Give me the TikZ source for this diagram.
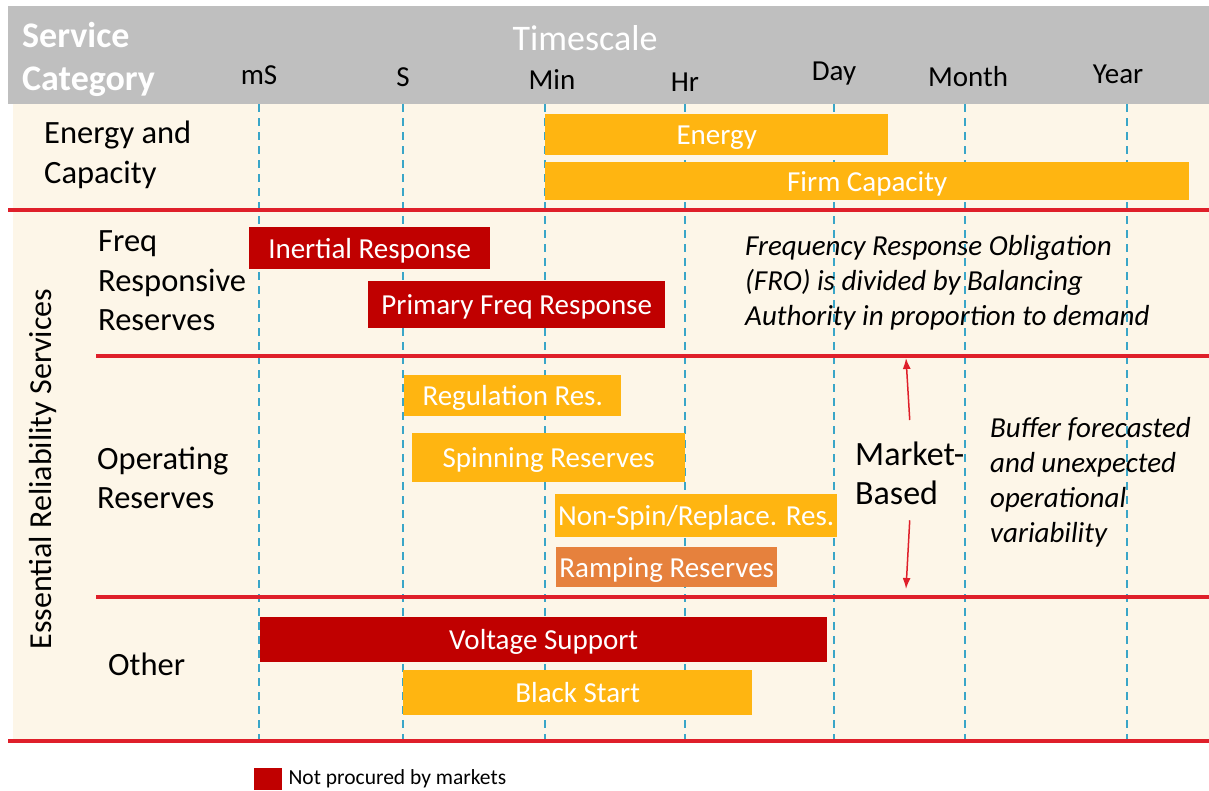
\documentclass[tikz,border=0pt]{standalone}
\usepackage{fontspec}
\setmainfont{Carlito}
\usetikzlibrary{arrows.meta,positioning}

\definecolor{amber}{HTML}{FFB511}
\definecolor{darkred}{HTML}{C00000}
\definecolor{ramp}{HTML}{E6813D}
\definecolor{cream}{HTML}{FDF6E8}
\definecolor{hdrgray}{HTML}{BFBFBF}
\definecolor{rule}{HTML}{DF1F2A}
\definecolor{grid}{HTML}{3AA6C8}

\newcommand{\fs}[2]{\fontsize{#1}{#2}\selectfont}

\begin{document}
\begin{tikzpicture}[x=1pt,y=-1pt,
    bar/.style={rectangle,inner sep=0pt,anchor=north west,text=white,text depth=0pt,font=\fs{29}{32}},
    amberbar/.style={bar,fill=amber},
    redbar/.style={bar,fill=darkred},
    catlabel/.style={anchor=west,align=left,inner sep=0pt,font=\fs{32.5}{39.5}},
    tick/.style={font=\fs{29}{32}},
    note/.style={anchor=west,align=left,inner sep=0pt,font=\fs{29}{35}\itshape},
    redline/.style={rule,line width=4pt},
    gridline/.style={grid,line width=2pt,dash pattern=on 8pt off 6pt},
    arr/.style={rule,line width=1.5pt,-{Latex[length=11pt,width=8pt]}}]
    \useasboundingbox (0,0) rectangle (1209,790);
    % background and header
    \fill [cream] (13,104) rectangle (1209,741);
    \fill [hdrgray] (8,6) rectangle (1209,104);
    \node [anchor=west,align=left,inner sep=0pt,text=white,font=\fs{36}{43}\bfseries] (svc) at (22,59) {Service\\Category};
    \node [text=white,font=\fs{36}{40}] (tscale) at (585,38) {Timescale};
    % timescale ticks and grid
    \foreach \lx/\ly/\gx/\t/\n in {259/75/259/mS/ms, 403/77/403/S/s, 552/80/545/Min/min, 685/82/685/Hr/hr,
        834/74/834/Day/day, 968/77/965/Month/month, 1118/74/1127/Year/year} {
        \node [tick] (t\n) at (\lx,\ly) {\t};
        \draw [gridline] (\gx,104) -- (\gx,741);
    }
    % row separators
    \draw [redline] (8,210) -- (1209,210);
    \draw [redline] (96,356) -- (1209,356);
    \draw [redline] (96,597) -- (1209,597);
    \draw [redline] (8,741) -- (1209,741);
    % categories
    \node [catlabel] (enc) at (44,155) {Energy and\\Capacity};
    \node [catlabel] (frr) at (98,281) {Freq\\Responsive\\Reserves};
    \node [catlabel] (opr) at (97,478) {Operating\\Reserves};
    \node [catlabel] (oth) at (108,664) {Other};
    \node [rotate=90,inner sep=0pt,font=\fs{32}{36}] (ers) at (43,469) {Essential Reliability Services};
    % service bars
    \node [amberbar,minimum width=343pt,minimum height=41pt] (energy) at (545,114) {Energy};
    \node [amberbar,minimum width=644pt,minimum height=38pt] (firm) at (545,162) {Firm Capacity};
    \node [redbar,minimum width=241pt,minimum height=42pt] (inertial) at (249,227) {Inertial Response};
    \node [redbar,minimum width=297pt,minimum height=47pt] (pfr) at (368,281) {Primary Freq Response};
    \node [amberbar,minimum width=217pt,minimum height=41pt] (reg) at (404,375) {Regulation Res.};
    \node [amberbar,minimum width=273pt,minimum height=49pt] (spin) at (412,433) {Spinning Reserves};
    \node [amberbar,minimum width=282pt,minimum height=43pt] (nonspin) at (555,494) {Non-Spin/Replace. Res.};
    \node [bar,fill=ramp,minimum width=221pt,minimum height=40pt] (ramping) at (556,547) {Ramping Reserves};
    \node [redbar,minimum width=567pt,minimum height=45pt] (volt) at (260,617) {Voltage Support};
    \node [amberbar,minimum width=349pt,minimum height=45pt] (black) at (403,670) {Black Start};
    % notes
    \node [note] (fro) at (745,283) {Frequency Response Obligation\\(FRO) is divided by Balancing\\Authority in proportion to demand};
    \node [note] (buffer) at (990,482) {Buffer forecasted\\and unexpected\\operational\\variability};
    \node [anchor=north west,align=left,inner sep=0pt,font=\fs{34}{39}] (market) at (855,442) {Market-\\Based};
    \coordinate (mtop) at (906,358);
    \coordinate (mbot) at (906,589);
    \draw [arr] (market.north) ++(0,-22) -- (mtop);
    \draw [arr] (market.south) ++(0,15) -- (mbot);
    % legend
    \node [fill=darkred,minimum width=28pt,minimum height=22pt,inner sep=0pt,anchor=north west] (key) at (254,768) {};
    \node [right=6pt of key,inner sep=0pt,font=\fs{21.5}{25}] (keytext) {Not procured by markets};
\end{tikzpicture}
\end{document}
